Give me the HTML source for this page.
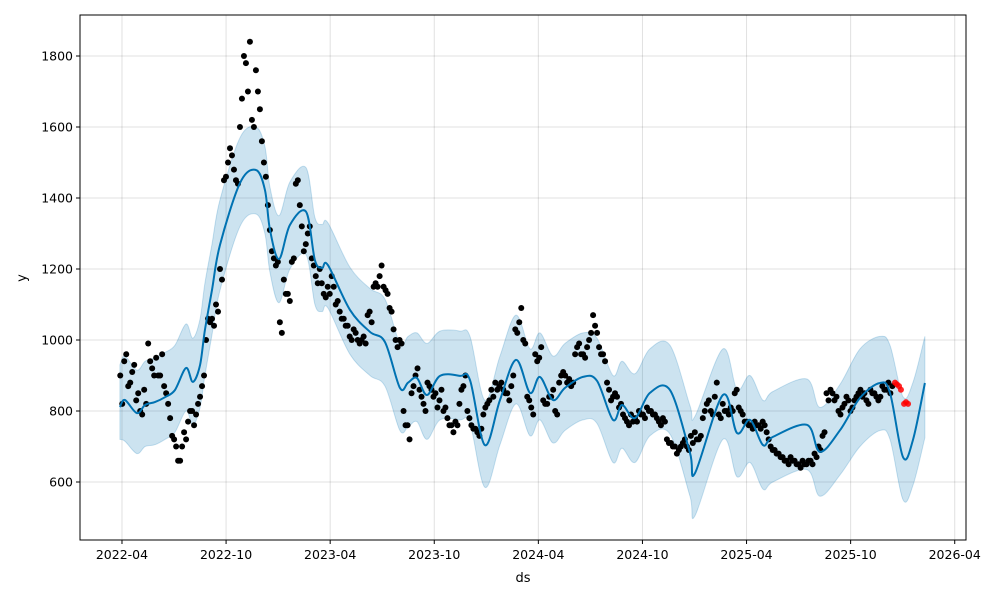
<!DOCTYPE html>
<html><head><meta charset="utf-8"><style>
body{margin:0;background:#fff;}
svg{display:block;font-family:"DejaVu Sans","Liberation Sans",sans-serif;}
</style></head><body>
<svg id="chart" width="1000" height="600" viewBox="0 0 1000 600" xmlns="http://www.w3.org/2000/svg">
<rect x="0" y="0" width="1000" height="600" fill="#fff"/>
<g id="grid"></g>
<g id="band"></g>
<g id="dots"></g>
<g id="red"></g>
<g id="line"></g>
<rect x="80" y="15" width="886" height="525" fill="none" stroke="#000" stroke-width="1"/>
<g id="ticks"></g>
<text x="523" y="582" text-anchor="middle" font-size="13">ds</text>
<text x="26" y="278" text-anchor="middle" font-size="13" transform="rotate(-90 26 278)">y</text>
</svg>
<script>
// x values are months since 2022-04
const xTickMonths = [0,6,12,18,24,30,36,42,48];
const xTickLabels = ["2022-04","2022-10","2023-04","2023-10","2024-04","2024-10","2025-04","2025-10","2026-04"];
const yTicks = [600,800,1000,1200,1400,1600,1800];

const fcMonths = [-0.12,0.17,0.86,1.33,1.90,2.48,3.05,3.69,4.09,4.50,4.78,5.19,5.65,6.80,7.72,8.24,8.53,9.05,9.68,10.61,11.12,11.53,11.87,13.14,14.29,15.16,16.02,16.49,17.00,17.58,18.33,19.48,20.06,20.92,21.79,22.71,23.52,24.09,24.84,25.53,26.57,27.38,28.30,28.82,29.57,30.43,31.59,32.74,33.03,34.64,35.45,36.20,36.95,37.52,39.48,40.23,41.39,42.54,43.69,44.27,45.02,45.59,46.28];
const yhat = [811,831,794,817,825,839,859,921,882,930,1028,1141,1268,1442,1479,1423,1310,1228,1324,1361,1225,1203,1211,1085,1023,994,865,880,893,845,899,899,887,704,831,944,851,896,831,865,896,885,775,817,780,851,859,682,625,845,738,775,704,727,761,685,746,837,879,851,670,718,879];
const yhatUpper = [930,955,915,940,950,965,985,1045,1005,1060,1160,1270,1395,1570,1600,1545,1430,1350,1445,1485,1345,1325,1330,1205,1145,1115,990,1010,1020,990,1025,1025,1010,830,955,1070,975,1020,955,990,1020,1005,900,940,905,975,985,815,785,975,860,900,830,855,890,810,875,975,1010,985,840,880,1010];
const yhatLower = [720,715,680,700,705,720,740,800,760,810,900,1015,1140,1320,1355,1300,1190,1105,1200,1240,1100,1080,1090,960,900,870,745,755,770,720,775,775,765,585,705,820,730,775,710,745,775,765,655,695,655,730,735,560,505,720,615,655,580,600,635,560,620,700,745,720,550,590,725];

const obsStart = -0.1;
const obsStepMonths = 0.23;
const obsValues = [900,940,870,910,830,800,860,990,920,950,900,870,820,730,700,660,740,770,800,790,
840,900,1060,1060,1100,1200,1450,1500,1520,1450,1600,1800,1700,1620,1760,1650,1500,1380,1250,1210,
1050,1170,1130,1220,1440,1380,1250,1300,1230,1180,1200,1130,1150,1180,1100,1080,1060,1040,1000,1020,
990,1010,1070,1050,1160,1180,1150,1130,1080,1000,1000,800,760,850,900,860,820,880,860,850,
830,800,780,760,770,820,870,800,760,750,730,790,820,860,880,870,860,850,870,1030,
1050,1000,840,810,960,950,830,820,840,800,880,910,880,870,960,990,960,980,1020,1040,
980,960,880,830,850,810,790,770,790,780,800,790,810,800,790,770,780,720,710,700,
690,710,700,730,740,720,780,820,800,840,790,820,800,810,850,810,790,770,760,770,
760,770,740,700,690,680,670,660,670,660,650,660,650,660,680,700,730,850,860,830,
800,810,840,800,830,850,840,830,860,850,830,870,860,850];
const obsValues2 = [820,960,880,930,850,790,820,940,900,900,960,850,780,720,660,700,720,800,760,820,
870,1000,1050,1040,1080,1170,1460,1540,1480,1440,1680,1780,1840,1600,1700,1560,1460,1310,1230,1220,
1020,1130,1110,1230,1450,1320,1270,1320,1210,1160,1160,1120,1130,1150,1110,1060,1040,1010,1030,1000,
1000,990,1080,1150,1150,1210,1140,1090,1030,980,990,760,720,870,920,840,800,870,840,810,
860,810,760,740,760,860,900,780,750,740,750,810,830,840,860,880,850,830,900,1020,
1090,990,830,790,940,980,820,840,860,790,900,900,890,880,980,960,950,1000,1070,1020,
960,940,860,840,840,820,780,760,770,770,790,780,800,790,780,760,770,710,700,680,
700,720,690,710,720,730,800,830,790,880,780,800,790,800,860,800,770,760,750,760,
750,760,720,690,680,670,660,650,660,650,640,650,660,650,670,690,740,830,850,840,
790,820,830,810,840,860,850,820,850,840,840,860,880,870];
const redMonths = [44.56,44.67,44.79,44.90,45.08,45.19,45.31];
const redValues = [880,875,870,860,820,825,820];

const X0=80,X1=966,Y0=15,Y1=540;
const xMin=-2.42,xMax=48.65,yMin=436.6,yMax=1915.5;
const sx=m=>X0+(m-xMin)/(xMax-xMin)*(X1-X0);
const sy=v=>Y1-(v-yMin)/(yMax-yMin)*(Y1-Y0);
const NS="http://www.w3.org/2000/svg";
function mk(tag,attrs,parent){const e=document.createElementNS(NS,tag);for(const k in attrs)e.setAttribute(k,attrs[k]);parent.appendChild(e);return e;}
function smooth(pts,start){
  let d=start?'M'+pts[0][0].toFixed(1)+','+pts[0][1].toFixed(1):'L'+pts[0][0].toFixed(1)+','+pts[0][1].toFixed(1);
  for(let i=0;i<pts.length-1;i++){
    const p0=pts[Math.max(0,i-1)],p1=pts[i],p2=pts[i+1],p3=pts[Math.min(pts.length-1,i+2)];
    const c1=[p1[0]+(p2[0]-p0[0])/6,p1[1]+(p2[1]-p0[1])/6];
    const c2=[p2[0]-(p3[0]-p1[0])/6,p2[1]-(p3[1]-p1[1])/6];
    d+='C'+c1[0].toFixed(1)+','+c1[1].toFixed(1)+' '+c2[0].toFixed(1)+','+c2[1].toFixed(1)+' '+p2[0].toFixed(1)+','+p2[1].toFixed(1);
  }
  return d;
}
const grid=document.getElementById('grid'),ticks=document.getElementById('ticks');
xTickMonths.forEach((m,i)=>{
  const x=sx(m);
  const g=mk('line',{x1:x,x2:x,y1:Y0,y2:Y1,stroke:'#000','stroke-opacity':0.12,'stroke-width':1},grid);
  
  
  const t=mk('line',{x1:x,x2:x,y1:Y1,y2:Y1+4,stroke:'#000'},ticks);
  
  
  const l=mk('text',{x:x,y:Y1+19,'text-anchor':'middle','font-size':12.5},ticks);
  l.textContent=xTickLabels[i];
  
  
});
yTicks.forEach(v=>{
  const y=sy(v);
  const g=mk('line',{x1:X0,x2:X1,y1:y,y2:y,stroke:'#000','stroke-opacity':0.12,'stroke-width':1},grid);
  
  
  const t=mk('line',{x1:X0-4,x2:X0,y1:y,y2:y,stroke:'#000'},ticks);
  
  
  const l=mk('text',{x:X0-7,y:y+4.5,'text-anchor':'end','font-size':12.5},ticks);
  l.textContent=v;
  
  
});
// band
const up=fcMonths.map((m,i)=>[sx(m),sy(yhatUpper[i])]);
const lo=fcMonths.map((m,i)=>[sx(m),sy(yhatLower[i])]).reverse();
const band=mk('path',{d:smooth(up,true)+smooth(lo,false)+'Z',fill:'#0072B2','fill-opacity':0.2,stroke:'#0072B2','stroke-opacity':0.2},document.getElementById('band'));


// dots
const dots=document.getElementById('dots');
obsValues.forEach((v,i)=>{
  const c=mk('circle',{cx:sx(obsStart+i*obsStepMonths),cy:sy(v),r:3,fill:'#000'},dots);
  
  
});
obsValues2.forEach((v,i)=>{
  const c=mk('circle',{cx:sx(obsStart+(i+0.5)*obsStepMonths),cy:sy(v),r:3,fill:'#000'},dots);
  
  
});
const red=document.getElementById('red');
redValues.forEach((v,i)=>{
  const c=mk('circle',{cx:sx(redMonths[i]),cy:sy(v),r:3,fill:'#ff0000','fill-opacity':0.85},red);
  
  
});
// line
const lp=fcMonths.map((m,i)=>[sx(m),sy(yhat[i])]);
const ln=mk('path',{d:smooth(lp,true),fill:'none',stroke:'#0072B2','stroke-width':2,'stroke-linejoin':'round'},document.getElementById('line'));


</script>
</body></html>
